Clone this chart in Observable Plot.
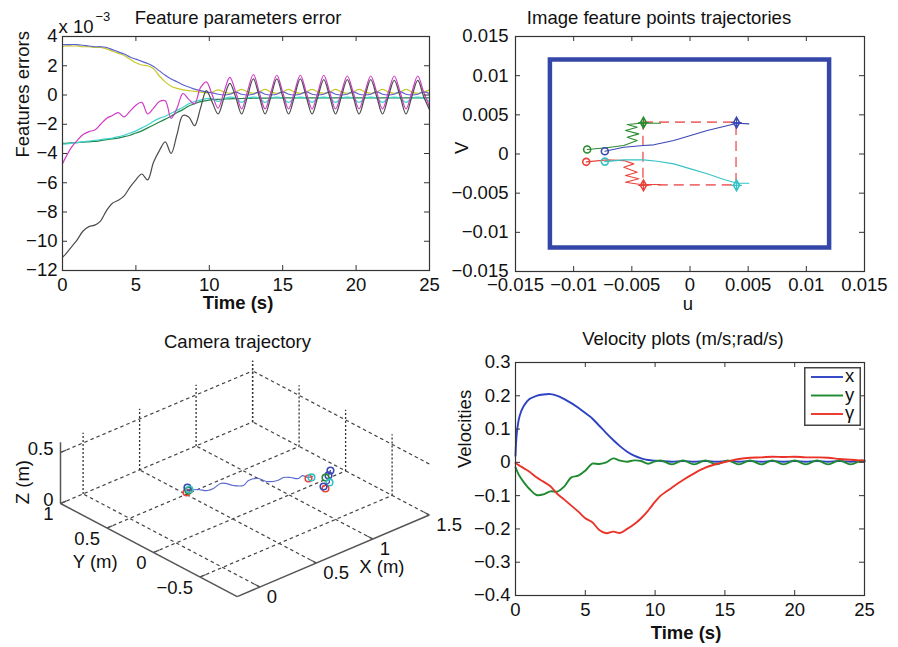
<!DOCTYPE html>
<html><head><meta charset="utf-8">
<script src="https://cdn.jsdelivr.net/npm/d3@7"></script>
<script src="https://cdn.jsdelivr.net/npm/@observablehq/plot@0.6"></script>
<style>
body{margin:0;background:#fff;}
#fig{position:relative;width:898px;height:647px;overflow:hidden;background:#fff;font-family:"Liberation Sans",Arial,sans-serif;}
</style></head><body><div id="fig"></div>
<script>
// ---------------- Panel 1: feature parameters error (x 10^-3) ----------------
const errTicksX = [0, 5, 10, 15, 20, 25];
const errTicksY = [-12, -10, -8, -6, -4, -2, 0, 2, 4];
const errTime = [0,0.2,0.6,1.0,1.4,1.8,2.2,2.6,3.0,3.4,3.8,4.2,4.6,5.0,5.4,5.8,6.2,6.6,7.0,7.4,7.8,8.2,8.6,9.0,9.4,9.8,10.2,10.6,11.0,11.4,11.8,12.2,12.6,13.0,13.4,13.8,14.2,14.6,15.0,15.4,15.8,16.2,16.6,17.0,17.4,17.8,18.2,18.6,19.0,19.4,19.8,20.2,20.6,21.0,21.4,21.8,22.2,22.6,23.0,23.4,23.8,24.2,24.6,25.0];
const errBlack = [-11.1,-10.9,-10.4,-9.9,-9.3,-9.0,-8.9,-8.6,-7.9,-7.4,-7.2,-6.9,-6.3,-5.8,-5.4,-5.8,-4.6,-3.8,-3.2,-4.0,-2.7,-1.4,-1.5,-2.1,-0.9,
  0.3,-0.5,-1.3,-0.2,0.8,-0.15,-1.3,-0.1,1.1,-0.1,-1.3,-0.1,1.1,-0.1,-1.3,-0.1,1.1,-0.1,-1.3,-0.1,1.05,-0.1,-1.3,-0.1,1.05,-0.1,-1.3,-0.1,1.05,-0.1,-1.3,-0.1,1.0,-0.1,-1.3,-0.1,1.0,-0.1,-1.0];
const errMagenta = [-4.7,-4.3,-3.6,-3.1,-2.7,-2.5,-2.4,-2.0,-1.6,-1.4,-1.2,-1.5,-1.1,-0.7,-0.5,-1.3,-0.9,-0.45,-0.4,-1.6,-0.9,0.1,-0.3,-0.6,0.5,
  0.9,0.0,-0.9,0.2,1.2,0.2,-0.95,0.25,1.4,0.2,-0.95,0.2,1.35,0.2,-0.95,0.2,1.35,0.2,-0.95,0.2,1.35,0.2,-0.95,0.2,1.3,0.2,-0.95,0.2,1.3,0.2,-0.95,0.2,1.3,0.2,-0.95,0.2,1.3,0.2,-0.8];
const errBlue = [3.45,3.45,3.45,3.45,3.4,3.35,3.3,3.3,3.25,3.1,2.95,2.8,2.6,2.45,2.3,2.15,1.95,1.65,1.35,1.1,0.9,0.7,0.55,0.4,0.3,
  0.2,0.15,0.05,0.0,0.05,0.2,0.05,0.0,0.05,0.22,0.05,0.0,0.05,0.22,0.05,0.0,0.05,0.22,0.05,0.0,0.05,0.22,0.05,0.0,0.05,0.22,0.05,0.0,0.05,0.22,0.05,0.0,0.05,0.22,0.05,0.0,0.05,0.22,0.1];
const errYellow = [3.3,3.35,3.35,3.35,3.3,3.3,3.25,3.25,3.15,3.0,2.85,2.7,2.45,2.2,2.05,2.0,1.8,1.3,0.9,0.6,0.45,0.35,0.3,0.25,0.2,
  0.15,0.2,0.35,0.2,0.12,0.2,0.38,0.2,0.12,0.2,0.38,0.2,0.12,0.2,0.38,0.2,0.12,0.2,0.38,0.2,0.12,0.2,0.38,0.2,0.12,0.2,0.38,0.2,0.12,0.2,0.38,0.2,0.12,0.2,0.38,0.2,0.12,0.2,0.35];
const errCyan = [-3.35,-3.35,-3.3,-3.25,-3.2,-3.15,-3.1,-3.05,-3.0,-2.95,-2.85,-2.75,-2.6,-2.45,-2.25,-2.05,-1.8,-1.6,-1.45,-1.25,-1.05,-0.85,-0.6,-0.45,-0.35,
  -0.25,-0.25,-0.45,-0.25,-0.15,-0.22,-0.5,-0.22,-0.15,-0.22,-0.5,-0.22,-0.15,-0.22,-0.5,-0.22,-0.15,-0.22,-0.5,-0.22,-0.15,-0.22,-0.5,-0.22,-0.15,-0.22,-0.5,-0.22,-0.15,-0.22,-0.5,-0.22,-0.15,-0.22,-0.5,-0.22,-0.15,-0.22,-0.45];
const errGreen = [-3.3,-3.3,-3.28,-3.25,-3.22,-3.2,-3.18,-3.12,-3.05,-3.0,-2.95,-2.85,-2.75,-2.6,-2.45,-2.25,-2.05,-1.85,-1.65,-1.45,-1.2,-1.0,-0.75,-0.6,-0.45,
  -0.38,-0.32,-0.3,-0.28,-0.26,-0.25,-0.24,-0.23,-0.22,-0.22,-0.21,-0.21,
  -0.2,-0.2,-0.2,-0.2,-0.2,-0.2,-0.2,-0.2,-0.2,-0.2,-0.2,-0.2,-0.2,-0.2,-0.2,-0.2,-0.2,-0.2,-0.2,-0.2,-0.2,-0.2,-0.2,-0.2,-0.2,-0.2,-0.2];

// ---------------- Panel 2: image feature points trajectories ----------------
const imgTicks = [-0.015, -0.01, -0.005, 0, 0.005, 0.01, 0.015];
const sensorU = [-0.012, 0.012];
const sensorV = [-0.012, 0.012];
const featureIds = [1, 2, 3, 4];               // 1 green, 2 blue, 3 red, 4 cyan
const desiredU = [-0.004, 0.004, -0.004, 0.004];
const desiredV = [0.004, 0.004, -0.004, -0.004];
const f1U = [-0.00884,-0.0072,-0.00569,-0.00454,-0.0054,-0.0044,-0.00554,-0.00454,-0.0054,-0.00425,-0.00253];
const f1V = [0.00057,0.0008,0.00108,0.00172,0.00214,0.00257,0.00299,0.00342,0.00376,0.00393,0.00393];
const f2U = [-0.00732,-0.00569,-0.004,-0.00311,-0.00139,0.00005,0.00148,0.00291,0.00406,0.00506];
const f2V = [0.00036,0.00087,0.00108,0.00117,0.00172,0.00236,0.00299,0.00351,0.00393,0.00385];
const f3U = [-0.00892,-0.00712,-0.00569,-0.00483,-0.00569,-0.00454,-0.00554,-0.0044,-0.00554,-0.00425,-0.00253];
const f3V = [-0.001,-0.00075,-0.00084,-0.00126,-0.00169,-0.00233,-0.00275,-0.00317,-0.00361,-0.0039,-0.0039];
const f4U = [-0.00732,-0.00569,-0.004,-0.00282,-0.00139,0.00005,0.00148,0.00291,0.00406,0.00506];
const f4V = [-0.00097,-0.00075,-0.00075,-0.00092,-0.00126,-0.0019,-0.00253,-0.00326,-0.00373,-0.00373];

// ---------------- Panel 3: camera trajectory (3-D, metres) ----------------
const camXTicks = [0, 0.5, 1, 1.5];
const camYTicks = [-0.5, 0, 0.5, 1];
const camZTicks = [0, 0.5];
const camXLim = [-0.2, 1.5], camYLim = [-0.9, 1], camZLim = [0, 0.6];
const camX = [0.358,0.412,0.451,0.499,0.580,0.605,0.625,0.674,0.745,0.813,0.824,0.887,0.945,0.979,1.009,1.056,1.062,1.096];
const camY = [0.302,0.270,0.211,0.205,0.228,0.204,0.143,0.095,0.127,0.102,0.029,-0.012,-0.007,-0.041,-0.090,-0.076,-0.122,-0.135];
const camZ = [0.2,0.2,0.2,0.2,0.2,0.2,0.2,0.2,0.2,0.2,0.2,0.2,0.2,0.2,0.2,0.2,0.2,0.2];
const endX = [1.24, 1.184, 1.124, 1.057];
const endY = [-0.153, -0.2, -0.284, -0.301];
const endZ = [0.2, 0.2, 0.2, 0.2];
const markX = [0.330,0.358,0.381,0.372, 1.058,1.082, 1.24,1.184,1.15,1.124,1.048,1.057];
const markY = [0.289,0.302,0.341,0.309, -0.138,-0.141, -0.153,-0.2,-0.209,-0.284,-0.333,-0.301];
const markZ = [0.2,0.2,0.2,0.2, 0.2,0.2, 0.2,0.2,0.2,0.2,0.2,0.2];
const markF = [3,1,2,4, 3,4, 2,2,1,4,3,2];

// ---------------- Panel 4: velocities ----------------
const velTicksX = [0, 5, 10, 15, 20, 25];
const velTicksY = [-0.4, -0.3, -0.2, -0.1, 0, 0.1, 0.2, 0.3];
const velTime = [0,0.1,0.3,0.6,1.0,1.5,2.0,2.5,3.0,3.5,4.0,4.5,5.0,5.5,6.0,6.5,7.0,7.5,8.0,8.5,9.0,9.5,10,10.4,11.2,12.0,12.8,13.6,14.4,15.2,16.0,16.8,17.6,18.4,19.2,20.0,20.8,21.6,22.4,23.2,24.0,24.8,25];
const velX = [0.02,0.09,0.14,0.17,0.19,0.2,0.204,0.205,0.2,0.19,0.178,0.164,0.148,0.132,0.11,0.088,0.067,0.048,0.032,0.02,0.012,0.007,0.005,
  0.004,0.002,0.004,0.002,0.004,0.002,0.004,0.002,0.004,0.002,0.004,0.002,0.004,0.002,0.004,0.002,0.004,0.002,0.004,0.003];
const velY = [-0.015,-0.025,-0.042,-0.06,-0.08,-0.098,-0.096,-0.087,-0.088,-0.072,-0.045,-0.04,-0.025,-0.004,-0.005,0.0,0.012,0.005,0.002,0.006,0.004,-0.004,0.003,
  0.006,-0.006,0.006,-0.006,0.006,-0.006,0.006,-0.006,0.006,-0.006,0.006,-0.006,0.006,-0.006,0.006,-0.006,0.006,-0.006,0.006,0.003];
const velGamma = [-0.002,-0.005,-0.01,-0.018,-0.028,-0.045,-0.058,-0.072,-0.095,-0.112,-0.13,-0.148,-0.168,-0.18,-0.203,-0.213,-0.208,-0.212,-0.2,-0.186,-0.168,-0.145,-0.118,
  -0.1,-0.076,-0.053,-0.033,-0.016,-0.005,0.003,0.01,0.014,0.015,0.017,0.016,0.017,0.015,0.015,0.014,0.01,0.008,0.006,0.006];
const velNames = ["x", "y", "\u03b3"];

// ================= drawing =================
const FONT = '"Liberation Sans", Arial, Helvetica, sans-serif';
const FS = "18.5px";
const AX = "#333";
const fig = document.getElementById("fig");
function place(el, left, top) {
  el.style.position = "absolute"; el.style.left = left + "px"; el.style.top = top + "px";
  fig.appendChild(el);
}
function fmt(d) { if (d === 0) return "0"; return (d < 0 ? "\u2212" : "") + String(Math.abs(d)); }
function innerTicks(xt, yt, fw, fh, len = 5) {
  return [
    Plot.tickX(xt, {x: d => d, insetTop: fh - len, stroke: AX}),
    Plot.tickX(xt, {x: d => d, insetBottom: fh - len, stroke: AX}),
    Plot.tickY(yt, {y: d => d, insetRight: fw - len, stroke: AX}),
    Plot.tickY(yt, {y: d => d, insetLeft: fw - len, stroke: AX})
  ];
}
const label = (s, o) => Plot.text([s], {text: d => d, lineAnchor: "middle", ...o});
const baseStyle = {fontFamily: FONT, fontSize: FS, background: "transparent", overflow: "visible", color: "#111"};
const zip = (xs, ys) => xs.map((x, i) => ({x, y: ys[i]}));

// ---- Panel 1
const errSeries = [
  {v: errGreen, c: "#23854a"}, {v: errCyan, c: "#3fd3cf"}, {v: errYellow, c: "#c9c82c"},
  {v: errBlue, c: "#5a62cf"}, {v: errMagenta, c: "#d13bc6"}, {v: errBlack, c: "#4d4d4d"}
];
const p1 = Plot.plot({
  width: 450, height: 320, marginLeft: 62, marginRight: 21, marginTop: 36, marginBottom: 50,
  style: baseStyle,
  x: {domain: [0, 25]}, y: {domain: [-12, 4]},
  marks: [
    ...errSeries.map(s => Plot.line(zip(errTime, s.v), {x: "x", y: "y", stroke: s.c, strokeWidth: 1.2, curve: "catmull-rom"})),
    Plot.frame({stroke: AX, strokeWidth: 1.2}),
    ...innerTicks(errTicksX, errTicksY, 367, 234),
    Plot.axisX({ticks: errTicksX, tickSize: 0, tickPadding: 7, tickFormat: fmt, label: null}),
    Plot.axisY({ticks: errTicksY, tickSize: 0, tickPadding: 5, tickFormat: fmt, label: null}),
    label("Feature parameters error", {frameAnchor: "top", dx: -8, dy: -18}),
    Plot.text(["x 10"], {frameAnchor: "top-left", textAnchor: "start", lineAnchor: "bottom", dx: -4, dy: -4, text: d => d}),
    Plot.text(["\u22123"], {frameAnchor: "top-left", textAnchor: "start", lineAnchor: "bottom", dx: 33, dy: -16, fontSize: 13, text: d => d}),
    label("Features errors", {frameAnchor: "left", dx: -39, dy: 4, rotate: -90}),
    label("Time (s)", {frameAnchor: "bottom", dx: -8, dy: 33, fontWeight: "bold"})
  ]
});
place(p1, 0, 0);

// ---- Panel 2
const featColor = {1: "#2a8a2e", 2: "#3a48b3", 3: "#e8443c", 4: "#35c2c4"};
const featPaths = [[f1U, f1V, 1], [f2U, f2V, 2], [f3U, f3V, 3], [f4U, f4V, 4]];
const p2 = Plot.plot({
  width: 458, height: 320, marginLeft: 75, marginRight: 34, marginTop: 36, marginBottom: 49,
  style: baseStyle,
  x: {domain: [-0.015, 0.015]}, y: {domain: [-0.015, 0.015]},
  marks: [
    Plot.rect([{u1: sensorU[0], u2: sensorU[1], v1: sensorV[0], v2: sensorV[1]}],
      {x1: "u1", x2: "u2", y1: "v1", y2: "v2", fill: "none", stroke: "#3446a8", strokeWidth: 4.5}),
    Plot.rect([{u1: d3.min(desiredU), u2: d3.max(desiredU), v1: d3.min(desiredV), v2: d3.max(desiredV)}],
      {x1: "u1", x2: "u2", y1: "v1", y2: "v2", fill: "none", stroke: "#f07070", strokeWidth: 1.6, strokeDasharray: "10,6"}),
    ...featPaths.map(([U, V, id]) => Plot.line(zip(U, V), {x: "x", y: "y", stroke: featColor[id], strokeWidth: 1.1})),
    Plot.dot(featPaths.map(([U, V, id]) => ({x: U[0], y: V[0], id})), {x: "x", y: "y", r: 3.5, stroke: d => featColor[d.id], strokeWidth: 1.6, fill: "none"}),
    Plot.dot(featureIds.map((id, i) => ({x: desiredU[i], y: desiredV[i], id})), {x: "x", y: "y", r: 3.2, symbol: "diamond", stroke: d => featColor[d.id], strokeWidth: 1.6, fill: "none"}),
    Plot.dot(featureIds.map((id, i) => ({x: desiredU[i], y: desiredV[i], id})), {x: "x", y: "y", r: 3.5, symbol: "plus", stroke: d => featColor[d.id], strokeWidth: 1.2}),
    Plot.frame({stroke: AX, strokeWidth: 1.2}),
    ...innerTicks(imgTicks, imgTicks, 349, 235),
    Plot.axisX({ticks: imgTicks, tickSize: 0, tickPadding: 6, tickFormat: fmt, label: null}),
    Plot.axisY({ticks: imgTicks, tickSize: 0, tickPadding: 7, tickFormat: fmt, label: null}),
    label("Image feature points trajectories", {frameAnchor: "top", dx: -31, dy: -18}),
    label("u", {frameAnchor: "bottom", dx: -2, dy: 33}),
    label("V", {frameAnchor: "left", dx: -53, rotate: -90})
  ]
});
place(p2, 440, 0);

// ---- Panel 4
const velSeries = [{v: velX, c: "#2e42c4"}, {v: velY, c: "#1f8a30"}, {v: velGamma, c: "#ea3328"}];
const p4 = Plot.plot({
  width: 448, height: 327, marginLeft: 65, marginRight: 34, marginTop: 42, marginBottom: 52,
  style: baseStyle,
  x: {domain: [0, 25]}, y: {domain: [-0.4, 0.3]},
  marks: [
    ...velSeries.map(s => Plot.line(zip(velTime, s.v), {x: "x", y: "y", stroke: s.c, strokeWidth: 1.9, curve: "catmull-rom"})),
    Plot.frame({stroke: AX, strokeWidth: 1.2}),
    ...innerTicks(velTicksX, velTicksY, 349, 233),
    Plot.axisX({ticks: velTicksX, tickSize: 0, tickPadding: 7, tickFormat: fmt, label: null}),
    Plot.axisY({ticks: velTicksY, tickSize: 0, tickPadding: 5, tickFormat: fmt, label: null}),
    label("Velocity plots (m/s;rad/s)", {frameAnchor: "top", dx: -7, dy: -23}),
    label("Time (s)", {frameAnchor: "bottom", dx: -4, dy: 38, fontWeight: "bold"}),
    label("Velocities", {frameAnchor: "left", dx: -50, dy: -11, rotate: -90})
  ]
});
place(p4, 450, 320);

// legend for panel 4
const lg = d3.create("svg").attr("width", 58).attr("height", 60)
  .style("font-family", FONT).style("font-size", FS).style("overflow", "visible");
lg.append("rect").attr("x", 0.75).attr("y", 0.75).attr("width", 55.5).attr("height", 57.5)
  .attr("fill", "#fff").attr("stroke", "#444").attr("stroke-width", 1.5);
velNames.forEach((n, i) => {
  const yy = 10 + i * 18.5;
  lg.append("line").attr("x1", 7).attr("x2", 39).attr("y1", yy).attr("y2", yy)
    .attr("stroke", velSeries[i].c).attr("stroke-width", 1.9);
  lg.append("text").attr("x", 41).attr("y", yy + 5).attr("fill", "#111").text(n);
});
place(lg.node(), 804, 367);

// ---- Panel 3 (3-D, orthographic view, screen units per metre)
const VX = [113, -48], VY = [-93, -49], VZ = [0, -102];
const projU = (X, Y, Z) => VX[0] * X + VY[0] * Y + VZ[0] * Z;
const projH = (X, Y, Z) => -(VX[1] * X + VY[1] * Y + VZ[1] * Z);
const seg = (a, b) => ({x1: projU(...a), y1: projH(...a), x2: projU(...b), y2: projH(...b)});
const [x0, x1] = camXLim, [y0, y1] = camYLim, [z0, z1] = camZLim;
const floorGrid = [
  ...camXTicks.map(x => seg([x, y0, 0], [x, y1, 0])),
  ...camYTicks.map(y => seg([x0, y, 0], [x1, y, 0]))
];
const wallGrid = [
  ...camZTicks.filter(z => z > 0).map(z => seg([x0, y1, z], [x1, y1, z])),
  ...camZTicks.filter(z => z > 0).map(z => seg([x1, y0, z], [x1, y1, z]))
];
const wallVert = [
  ...camXTicks.map(x => seg([x, y1, 0], [x, y1, z1])),
  ...camYTicks.map(y => seg([x1, y, 0], [x1, y, z1]))
];
const axes3 = [seg([x0, y1, 0], [x0, y1, z1]), seg([x0, y1, 0], [x0, y0, 0]), seg([x0, y0, 0], [x1, y0, 0])];
const tick3 = [
  ...camXTicks.map(x => seg([x, y0, 0], [x, y0 + 0.06, 0])),
  ...camYTicks.map(y => seg([x0, y, 0], [x0 + 0.05, y, 0])),
  ...camZTicks.map(z => seg([x0, y1, z], [x0 + 0.05, y1, z]))
];
const pt = (X, Y, Z, extra = {}) => ({u: projU(X, Y, Z), h: projH(X, Y, Z), ...extra});
const p3 = Plot.plot({
  width: 450, height: 327, marginLeft: 0, marginRight: 0, marginTop: 0, marginBottom: 0,
  style: baseStyle,
  x: {domain: [-175.6, 274.4], axis: null}, y: {domain: [-104.6, 222.4], axis: null},
  marks: [
    Plot.link(floorGrid, {x1: "x1", y1: "y1", x2: "x2", y2: "y2", stroke: "#444", strokeWidth: 1.2, strokeDasharray: "3.5,3"}),
    Plot.link(wallGrid, {x1: "x1", y1: "y1", x2: "x2", y2: "y2", stroke: "#444", strokeWidth: 1.2, strokeDasharray: "3.5,3"}),
    Plot.link(wallVert, {x1: "x1", y1: "y1", x2: "x2", y2: "y2", stroke: "#333", strokeWidth: 1.3, strokeDasharray: "2,2"}),
    Plot.link(axes3, {x1: "x1", y1: "y1", x2: "x2", y2: "y2", stroke: "#555", strokeWidth: 1.5}),
    Plot.link(tick3, {x1: "x1", y1: "y1", x2: "x2", y2: "y2", stroke: "#555", strokeWidth: 1.2}),
    Plot.line(camX.map((x, i) => pt(x, camY[i], camZ[i])), {x: "u", y: "h", stroke: "#5a6ad2", strokeWidth: 1.2, curve: "catmull-rom"}),
    Plot.line(endX.map((x, i) => pt(x, endY[i], endZ[i])), {x: "u", y: "h", stroke: "#3a48c0", strokeWidth: 1.2}),
    Plot.dot(markX.map((x, i) => pt(x, markY[i], markZ[i], {f: markF[i]})), {x: "u", y: "h", r: 3.3, fill: "none", stroke: d => featColor[d.f], strokeWidth: 1.6}),
    Plot.text(camZTicks.map(z => pt(x0, y1, z, {s: fmt(z)})), {x: "u", y: "h", text: "s", textAnchor: "end", dx: -7, dy: -3}),
    Plot.text(camYTicks.map(y => pt(x0, y, 0, {s: fmt(y)})), {x: "u", y: "h", text: "s", textAnchor: "end", dx: -7, dy: 11}),
    Plot.text(camXTicks.map(x => pt(x, y0, 0, {s: fmt(x)})), {x: "u", y: "h", text: "s", textAnchor: "start", dx: 7, dy: 10}),
    Plot.text([pt(x0, y1, 0.2, {s: "Z (m)"})], {x: "u", y: "h", text: "s", rotate: -90, dx: -37, dy: -1}),
    Plot.text([pt(x0, 0.25, 0, {s: "Y (m)"})], {x: "u", y: "h", text: "s", dx: -35, dy: 22}),
    Plot.text([pt(0.85, y0, 0, {s: "X (m)"})], {x: "u", y: "h", text: "s", dx: 26, dy: 21}),
    label("Camera trajectory", {frameAnchor: "top", dx: 12, dy: 22})
  ]
});
place(p3, 0, 320);
</script></body></html>
